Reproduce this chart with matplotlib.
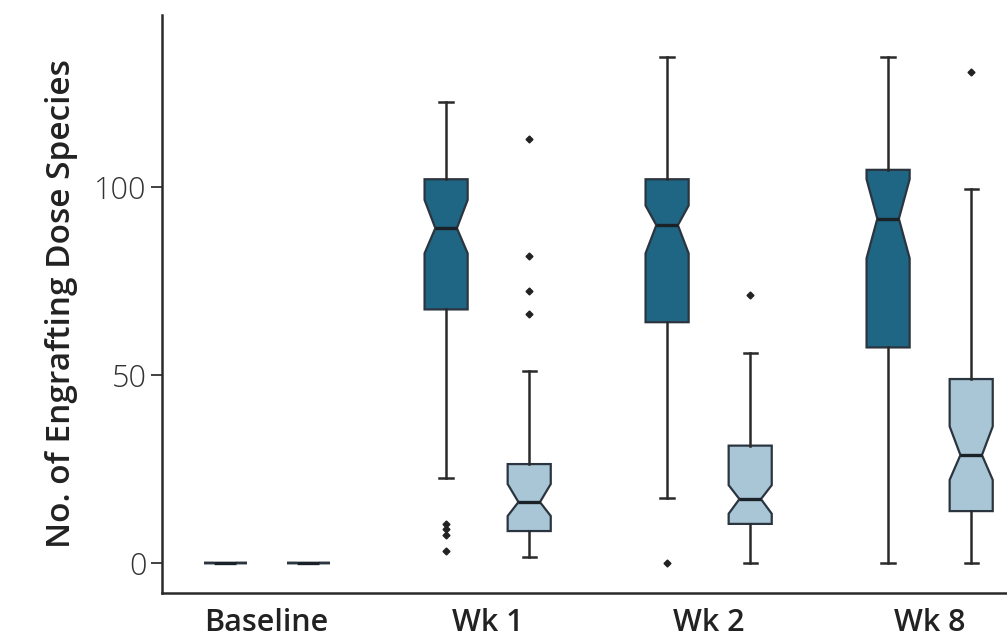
import matplotlib.pyplot as plt
import numpy as np

# categories and box statistics
categories = ["Baseline", "Wk 1", "Wk 2", "Wk 8"]

dark_lo = [0, 22.5, 17.3, 0]
dark_q1 = [0, 67.4, 64.0, 57.3]
dark_cilo = [0, 82.3, 82.3, 81.0]
dark_med = [0, 89.0, 89.8, 91.5]
dark_cihi = [0, 96.5, 95.0, 102.0]
dark_q3 = [0, 102.0, 102.0, 104.5]
dark_hi = [0, 122.5, 134.6, 134.6]
dark_fliers = [[], [10.5, 9.1, 7.4, 3.1], [0], []]

light_lo = [0, 1.5, 0, 0]
light_q1 = [0, 8.5, 10.4, 13.8]
light_cilo = [0, 12.5, 13.1, 22.1]
light_med = [0, 16.2, 17.0, 28.7]
light_cihi = [0, 21.0, 20.7, 36.3]
light_q3 = [0, 26.3, 31.2, 48.9]
light_hi = [0, 51.0, 55.9, 99.5]
light_fliers = [[], [112.6, 81.5, 72.2, 66.2], [71.2], [130.6]]

dark_color = "#1f6584"
light_color = "#a9c6d7"
edge_color = "#2b3540"


def make_stats(lo, q1, cilo, med, cihi, q3, hi, fliers):
    stats = []
    for i in range(len(med)):
        stats.append(dict(whislo=lo[i], q1=q1[i], cilo=cilo[i], med=med[i],
                          cihi=cihi[i], q3=q3[i], whishi=hi[i],
                          fliers=np.array(fliers[i])))
    return stats


dark_stats = make_stats(dark_lo, dark_q1, dark_cilo, dark_med, dark_cihi,
                        dark_q3, dark_hi, dark_fliers)
light_stats = make_stats(light_lo, light_q1, light_cilo, light_med, light_cihi,
                         light_q3, light_hi, light_fliers)

fig = plt.figure(figsize=(10.07, 6.44), dpi=100)
ax = fig.add_axes([0.161, 0.079, 0.839, 0.898])

x = np.arange(len(categories))
offset = 0.188
width = 0.195

for stats, pos, color in [(dark_stats, x - offset, dark_color),
                          (light_stats, x + offset, light_color)]:
    ax.bxp(stats, positions=pos, widths=width, shownotches=True,
           patch_artist=True, capwidths=0.06,
           boxprops=dict(facecolor=color, edgecolor=edge_color, linewidth=1.6),
           medianprops=dict(color="#1a2228", linewidth=2.4),
           whiskerprops=dict(color="#2a2a2a", linewidth=1.8),
           capprops=dict(color="#2a2a2a", linewidth=1.8),
           flierprops=dict(marker="D", markersize=3.5, markerfacecolor="#222222",
                           markeredgecolor="#222222"))

ax.set_xlim(-0.473, 3.35)
ax.set_ylim(-8, 145.7)
ax.set_xticks(x)
ax.set_xticklabels(categories, fontsize=22, fontweight="semibold",
                   family="Open Sans", color="#222222")
ax.set_yticks([0, 50, 100])
ax.set_yticklabels(["0", "50", "100"], fontsize=22, fontweight="light",
                   family="Open Sans", color="#333333")
ax.tick_params(axis="x", length=0, pad=11)
ax.tick_params(axis="y", length=8, width=1.3, color="#333333", pad=3)
ax.set_ylabel("No. of Engrafting Dose Species", fontsize=24,
              fontweight="semibold", family="Open Sans", color="#222222",
              labelpad=12)

for side in ["top", "right"]:
    ax.spines[side].set_visible(False)
for side in ["left", "bottom"]:
    ax.spines[side].set_linewidth(1.8)
    ax.spines[side].set_color("#2a2a2a")

fig.savefig("out.png", dpi=100)
